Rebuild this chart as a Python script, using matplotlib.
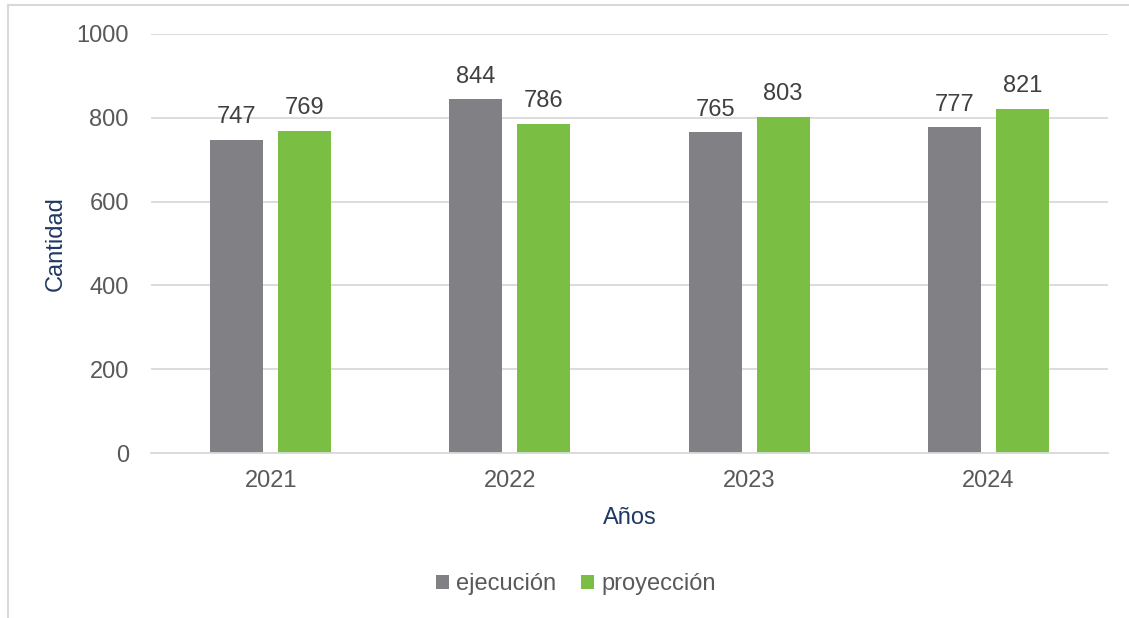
import numpy as np
import matplotlib.pyplot as plt
from matplotlib.lines import Line2D

years = ["2021", "2022", "2023", "2024"]
ejecucion = [747, 844, 765, 777]
proyeccion = [769, 786, 803, 821]

GRAY = "#808085"
GREEN = "#7ABF44"
TXT = "#595959"
NAVY = "#1F3864"
FS = 17

plt.rcParams["font.family"] = ["Liberation Sans", "DejaVu Sans"]

fig = plt.figure(figsize=(11.29, 6.18), dpi=100)
ax = fig.add_axes([151 / 1129, 1 - 453 / 618, (1108 - 151) / 1129, (453 - 34) / 618])

x = np.arange(len(years))
w = 0.222
off = 0.142
b1 = ax.bar(x - off, ejecucion, w, color=GRAY, label="ejecución", zorder=2)
b2 = ax.bar(x + off, proyeccion, w, color=GREEN, label="proyección", zorder=2)

for bars in (b1, b2):
    for r in bars:
        ax.annotate(f"{r.get_height():.0f}", (r.get_x() + r.get_width() / 2, r.get_height()),
                    xytext=(0, 8.5), textcoords="offset points", ha="center", va="bottom",
                    fontsize=FS, color="#404040")

ax.set_xlim(-0.5, 3.5)
ax.set_ylim(0, 1000)
ax.set_yticks(range(0, 1001, 200))
ax.set_xticks(x)
ax.set_xticklabels(years)
ax.grid(axis="y", color="#D9D9D9", linewidth=1.3, zorder=0)
ax.set_axisbelow(True)
for s in ("top", "right", "left"):
    ax.spines[s].set_visible(False)
ax.spines["bottom"].set_color("#D9D9D9")
ax.spines["bottom"].set_linewidth(1.3)
ax.tick_params(length=0, labelsize=FS, labelcolor=TXT)
ax.tick_params(axis="y", pad=16)
ax.tick_params(axis="x", pad=12)

ax.set_ylabel("Cantidad", fontsize=FS, color=NAVY, labelpad=7)
ax.set_xlabel("Años", fontsize=FS, color=NAVY, labelpad=11)

leg = fig.legend(loc="center", bbox_to_anchor=(576 / 1129, 1 - 584 / 618), ncol=2, frameon=False,
                 fontsize=FS, handlelength=0.55, handleheight=0.55, handletextpad=0.3, columnspacing=1.05)
for t in leg.get_texts():
    t.set_color(TXT)

# thin frame remnants on left and top edges
fig.add_artist(Line2D([8 / 1129, 8 / 1129], [0, 1 - 5 / 618], transform=fig.transFigure,
                      color="#D9D9D9", linewidth=1.5))
fig.add_artist(Line2D([8 / 1129, 1], [1 - 5 / 618, 1 - 5 / 618], transform=fig.transFigure,
                      color="#D9D9D9", linewidth=1.5))

fig.savefig("out.png", dpi=100)
